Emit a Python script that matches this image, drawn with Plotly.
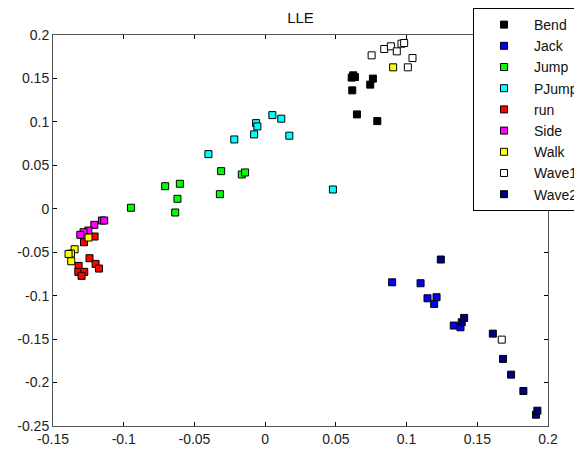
import plotly.graph_objects as go

# ---- data ----
bend_x = [0.0623, 0.0612, 0.0635, 0.0762, 0.0743, 0.0616, 0.0649, 0.0793]
bend_y = [0.1536, 0.1510, 0.1516, 0.1498, 0.1429, 0.1363, 0.1086, 0.1009]

jack_x = [0.0898, 0.1099, 0.1148, 0.1212, 0.1195, 0.1334, 0.1381]
jack_y = [-0.0846, -0.0857, -0.1030, -0.1018, -0.1095, -0.1344, -0.1364]

jump_x = [-0.0949, -0.0707, -0.0603, -0.0620, -0.0636, -0.0311, -0.0320, -0.0165, -0.0142]
jump_y = [0.0012, 0.0260, 0.0288, 0.0115, -0.0043, 0.0433, 0.0168, 0.0395, 0.0418]

pjump_x = [-0.0401, -0.0218, -0.0078, -0.0064, -0.0055, 0.0051, 0.0114, 0.0171, 0.0479]
pjump_y = [0.0629, 0.0798, 0.0856, 0.0986, 0.0948, 0.1078, 0.1037, 0.0841, 0.0222]

run_x = [-0.1206, -0.1281, -0.1242, -0.1199, -0.1175, -0.1319, -0.1321, -0.1279, -0.1298]
run_y = [-0.0319, -0.0385, -0.0569, -0.0634, -0.0688, -0.0657, -0.0726, -0.0726, -0.0772]

side_x = [-0.1154, -0.1138, -0.1208, -0.1250, -0.1284, -0.1307]
side_y = [-0.0135, -0.0135, -0.0185, -0.0250, -0.0270, -0.0300]

walk_x = [-0.1249, -0.1347, -0.1373, -0.1390, -0.1371, 0.0905]
walk_y = [-0.0331, -0.0466, -0.0515, -0.0520, -0.0604, 0.1628]

wave1_x = [0.0753, 0.0842, 0.0889, 0.0931, 0.0964, 0.0983, 0.1042, 0.1009, 0.1673]
wave1_y = [0.1766, 0.1839, 0.1870, 0.1812, 0.1900, 0.1908, 0.1735, 0.1628, -0.1506]

wave2_x = [0.1242, 0.1390, 0.1407, 0.1610, 0.1682, 0.1739, 0.1826, 0.1915, 0.1925]
wave2_y = [-0.0584, -0.1306, -0.1256, -0.1437, -0.1728, -0.1909, -0.2097, -0.2370, -0.2324]

names = ["Bend", "Jack", "Jump", "PJump", "run", "Side", "Walk", "Wave1", "Wave2"]
colors = ["#000000", "#0000ff", "#00ff00", "#00ffff", "#ff0000", "#ff00ff", "#ffff00", "#ffffff", "#00007f"]
xs = [bend_x, jack_x, jump_x, pjump_x, run_x, side_x, walk_x, wave1_x, wave2_x]
ys = [bend_y, jack_y, jump_y, pjump_y, run_y, side_y, walk_y, wave1_y, wave2_y]

x_ticks = [-0.15, -0.1, -0.05, 0, 0.05, 0.1, 0.15, 0.2]
x_tick_text = ["-0.15", "-0.1", "-0.05", "0", "0.05", "0.1", "0.15", "0.2"]
y_ticks = [-0.25, -0.2, -0.15, -0.1, -0.05, 0, 0.05, 0.1, 0.15, 0.2]
y_tick_text = ["-0.25", "-0.2", "-0.15", "-0.1", "-0.05", "0", "0.05", "0.1", "0.15", "0.2"]

fig = go.Figure()
for n, c, x, y in zip(names, colors, xs, ys):
    fig.add_trace(go.Scatter(
        x=x, y=y, mode="markers", name=n,
        marker=dict(symbol="square", size=7, color=c, line=dict(color="#000000", width=1)),
    ))

axis_common = dict(
    showgrid=False, zeroline=False, showline=True, linecolor="#555555", linewidth=1,
    mirror="ticks", ticks="inside", ticklen=4, tickcolor="#000000",
    tickfont=dict(family="Liberation Sans, Arial", size=14, color="#222222"),
)
fig.update_xaxes(range=[-0.15, 0.2], tickvals=x_ticks, ticktext=x_tick_text, **axis_common)
fig.update_yaxes(range=[-0.25, 0.2], tickvals=y_ticks, ticktext=y_tick_text, **axis_common)

fig.update_layout(
    width=574, height=449,
    margin=dict(l=53, r=26, t=35, b=23, autoexpand=False),
    paper_bgcolor="white", plot_bgcolor="white",
    title=dict(text="LLE", x=0.5, xref="paper", y=1 - 17.5 / 449, yanchor="middle",
               font=dict(family="Liberation Sans, Arial", size=15, color="#111111")),
    showlegend=True,
    legend=dict(
        x=(473 - 53) / 495, y=1 + 27 / 391, xanchor="left", yanchor="top",
        bgcolor="white", bordercolor="#000000", borderwidth=1,
        font=dict(family="Liberation Sans, Arial", size=14, color="#111111"),
        itemwidth=50,
    ),
)

fig.write_html("out.html")
